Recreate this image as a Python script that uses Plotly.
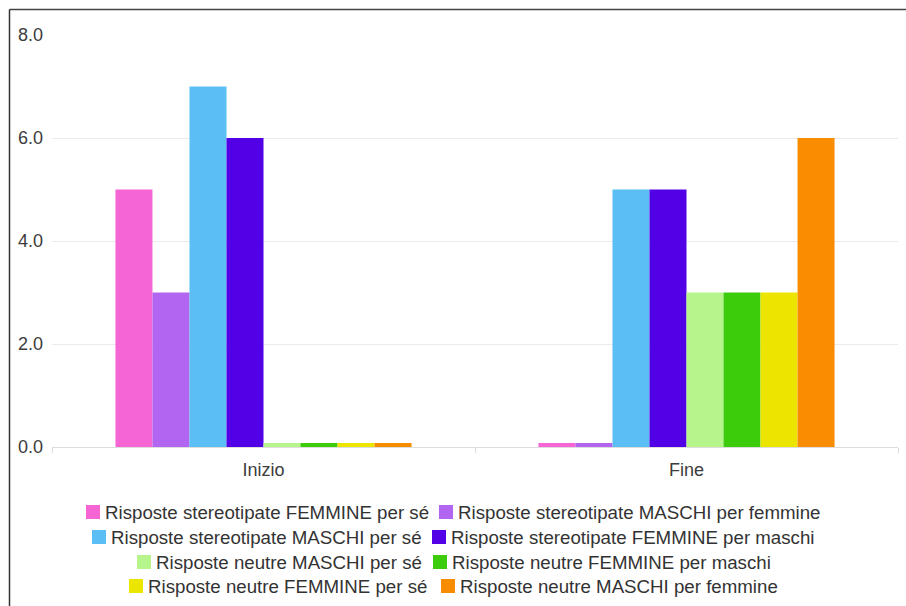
import plotly.graph_objects as go

categories = ["Inizio", "Fine"]
series_names = [
    "Risposte stereotipate FEMMINE per sé",
    "Risposte stereotipate MASCHI per femmine",
    "Risposte stereotipate MASCHI per sé",
    "Risposte stereotipate FEMMINE per maschi",
    "Risposte neutre MASCHI per sé",
    "Risposte neutre FEMMINE per maschi",
    "Risposte neutre FEMMINE per sé",
    "Risposte neutre MASCHI per femmine",
]
inizio_values = [5, 3, 7, 6, 0, 0, 0, 0]
fine_values = [0, 0, 5, 5, 3, 3, 3, 6]
colors = ["#F565D3", "#B165F0", "#5BBEF4", "#5200E6",
          "#B6F58C", "#3DCC0C", "#EBE500", "#F98C00"]
y_ticks = [0, 2, 4, 6, 8]

ZERO_STUB = 0.08  # zero values are drawn as thin stubs in the original

W, H = 906, 606
L, R, T, B = 52, 8, 35, 159
pw, ph = W - L - R, H - T - B

def px_x(x):
    return (x - L) / pw

def px_y(y):
    return (H - B - y) / ph

fig = go.Figure()
for i, name in enumerate(series_names):
    vals = [inizio_values[i], fine_values[i]]
    disp = [v if v > 0 else ZERO_STUB for v in vals]
    fig.add_trace(go.Bar(
        x=categories, y=disp, name=name,
        marker=dict(color=colors[i], line=dict(width=0)),
        customdata=vals,
        hovertemplate="%{x}: %{customdata}<extra>" + name + "</extra>",
        showlegend=False,
    ))

font_family = "Liberation Sans, Arial, Helvetica, sans-serif"

# legend layout (pixel positions of each entry's marker, two entries per row)
legend_rows_y = [512, 537, 562, 586]
legend_marker_x = [(86, 439), (92, 432), (137, 433), (129, 441)]
MS = 14

shapes = [
    dict(type="line", xref="paper", yref="paper",
         x0=px_x(9.5), x1=px_x(906), y0=px_y(9.5), y1=px_y(9.5),
         line=dict(color="#444444", width=1.5)),
    dict(type="line", xref="paper", yref="paper",
         x0=px_x(9.5), x1=px_x(9.5), y0=px_y(9.5), y1=px_y(606),
         line=dict(color="#333333", width=1.5)),
]
annotations = []
for i, name in enumerate(series_names):
    r, c = divmod(i, 2)
    mx = legend_marker_x[r][c]
    yc = legend_rows_y[r]
    shapes.append(dict(
        type="rect", xref="paper", yref="paper",
        x0=px_x(mx), x1=px_x(mx + MS), y0=px_y(yc + MS / 2), y1=px_y(yc - MS / 2),
        fillcolor=colors[i], line=dict(width=0),
    ))
    annotations.append(dict(
        xref="paper", yref="paper", x=px_x(mx + MS + 3), y=px_y(yc),
        xanchor="left", yanchor="middle", showarrow=False, text=name,
        font=dict(family=font_family, size=18.7, color="#333333"),
    ))

fig.update_layout(
    width=W, height=H,
    margin=dict(l=L, r=R, t=T, b=B),
    paper_bgcolor="white", plot_bgcolor="white",
    barmode="group", bargap=0.3, bargroupgap=0,
    showlegend=False,
    font=dict(family=font_family, size=18, color="#444444"),
    xaxis=dict(
        type="category", tickson="boundaries", ticks="outside",
        ticklen=5, tickcolor="#dddddd", showline=True, linecolor="#dddddd",
        linewidth=1, showgrid=False, tickfont=dict(size=18, color="#3c3c3c"),
        ticklabelstandoff=6, fixedrange=True,
    ),
    yaxis=dict(
        range=[0, 8], tickvals=y_ticks, tickformat=".1f",
        showgrid=True, gridcolor="#ebebeb", gridwidth=1,
        zeroline=False, showline=False, ticks="",
        tickfont=dict(size=18, color="#3c3c3c"), ticklabelstandoff=8,
        fixedrange=True,
    ),
    shapes=shapes,
    annotations=annotations,
)

fig.write_html("out.html", config={"displayModeBar": False})
